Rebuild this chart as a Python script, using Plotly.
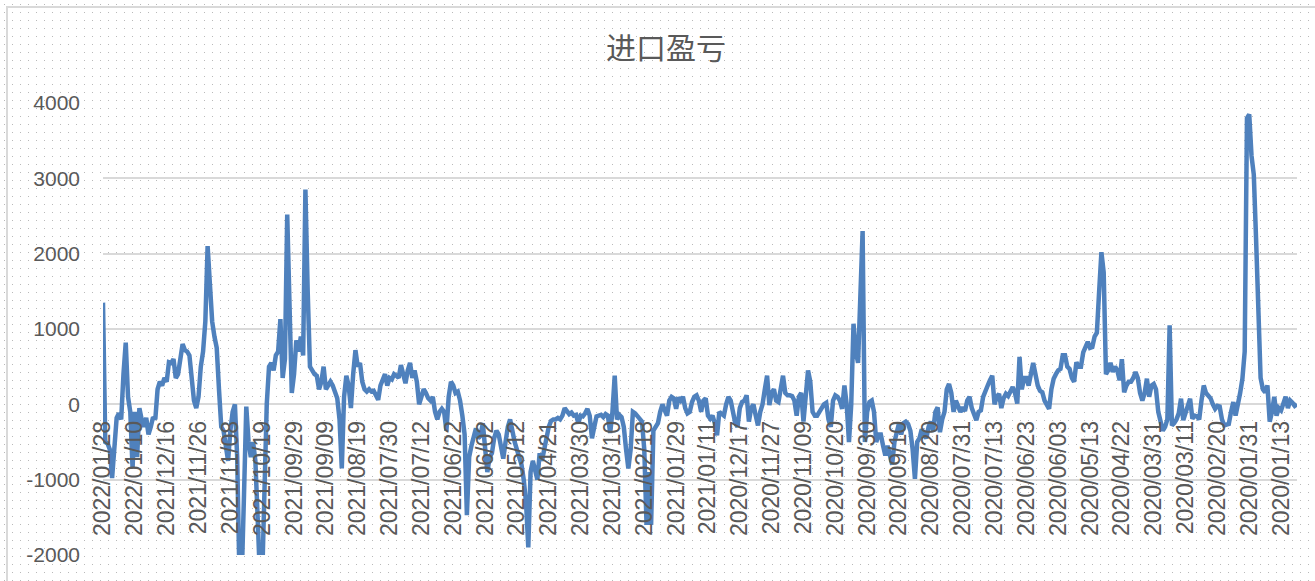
import base64
import struct
import zlib

import plotly.graph_objects as go

# ---------------- data ----------------
title_text = "进口盈亏"

tick_labels = [
    "2022/01/28", "2022/01/10", "2021/12/16", "2021/11/26", "2021/11/08",
    "2021/10/19", "2021/09/29", "2021/09/09", "2021/08/19", "2021/07/30",
    "2021/07/12", "2021/06/22", "2021/06/02", "2021/05/12", "2021/04/21",
    "2021/03/30", "2021/03/10", "2021/02/18", "2021/01/29", "2021/01/11",
    "2020/12/17", "2020/11/27", "2020/11/09", "2020/10/20", "2020/09/30",
    "2020/09/10", "2020/08/20", "2020/07/31", "2020/07/13", "2020/06/23",
    "2020/06/03", "2020/05/13", "2020/04/22", "2020/03/31", "2020/03/11",
    "2020/02/20", "2020/01/31", "2020/01/13",
]
label_every = 14  # one category label every 14 trading days

y_tick_values = [-2000, -1000, 0, 1000, 2000, 3000, 4000]
y_tick_text = ["-2000", "-1000", "0", "1000", "2000", "3000", "4000"]

values_2022_2021a = [
    1350, -500, -520, -600, -980, -650, -180, -120, -200, 400,
    820, 100, -100, -850, -100, -700, -50, -200, -300, -180,
    -400, -300, -170, -200, 200, 300, 250, 350, 300, 560,
    550, 600, 350, 400, 600, 800, 720, 700, 650, 300,
    50, -50, 100, 500, 700, 1100, 2100, 1600, 1100, 900,
    750, 200, -300, -350, -600, -750, -350, -100, 0, -700,
    -2300, -2300, -1200, -30, -500, -700, -500, -750, -1500, -2300,
    -2300, -1200, 0, 500, 550, 450, 650, 700, 1130, 350,
    600, 2520, 1000, 150, 400,
]
values_2021b = [
    850, 700, 900, 650, 2850, 1500, 500, 450, 400, 380,
    200, 300, 500, 200, 250, 300, 250, 180, 80, -200,
    -850, 100, 380, 250, -50, 400, 720, 500, 550, 300,
    200, 170, 200, 170, 180, 120, 60, 250, 350, 400,
    250, 350, 330, 400, 380, 350, 520, 420, 280, 450,
    550, 350, 450, 300, 0, 100, 200, 150, 80, 50,
    100, -100, -200, -100, -60, -100, -350, 100, 300, 250,
    150, 170, 50, -150, -400, -1470, -700, -550, -400, -320,
    -450, -420, -250, -600, -900, -700, -650, -450, -350,
]
values_2021c = [
    -400, -600, -720, -500, -300, -200, -380, -500, -600, -700,
    -800, -1000, -1300, -1900, -900, -750, -850, -1000, -650, -750,
    -600, -400, -300, -220, -200, -200, -180, -200, -150, -50,
    -100, -130, -110, -150, -140, -250, -150, -160, -120, -60,
    -150, -450, -300, -160, -150, -140, -170, -130, -150, -380,
    -100, 380, -200, -140, -170, -300, -600, -850, -600, -100,
    -120, -150, -200, -230, -600, -1600, -900, -1600, -350, -300,
    -250, -100, 0, -80, -150, 50, 100, 80, -60, 90,
    50, 100, -50, -120, -100, 30, 100,
]
values_2020a = [
    120, 50, -100, 50, 80, -150, -190, -150, -250, -410,
    -100, -120, -150, 0, 100, 50, -100, -250, -300, -50,
    30, 50, 120, -230, -50, 0, -150, -280, -100, 0,
    200, 380, -10, 150, 200, 50, 30, 250, 380, 150,
    120, 120, 110, 50, -150, 100, 150, -230, 200, 450,
    300, -100, -150, -150, -100, -50, 0, 20, -200, -300,
    50, 120, 100, 50, -60, 250, 0, -500, 0, 1070,
    700, 550, 1500, 2300, -500, -100, 30, 50, -100, -500,
    -400, -400, -550, -680, -550, -700, -800, -500, -350,
]
values_2020b = [
    -250, -400, -250, -230, -260, -350, -600, -990, -500, -450,
    -330, -400, -450, -300, -230, -350, -100, -40, -370, -200,
    -100, 200, 270, 150, -100, 50, -50, -100, -40, -90,
    50, 100, -50, -150, -210, -100, -80, 100, 160, 250,
    320, 380, 0, 100, 140, -50, 80, 140, 110, 180,
    230, 150, 10, 630, 200, 350, 350, 250, 450, 550,
    400, 250, 180, 160, 50, -20, -60, 200, 340, 400,
    450, 470, 650, 650, 500, 470, 350, 300, 560, 500,
    500, 690, 780, 830, 750, 760, 900,
]
values_2020c = [
    950, 1500, 2020, 1750, 400, 450, 550, 430, 500, 450,
    320, 600, 160, 250, 300, 300, 350, 430, 350, 150,
    50, 150, 340, 100, 250, 270, 200, -100, -250, -350,
    -300, -200, 1050, -280, -250, -200, -120, 75, -210, -100,
    0, 75, -190, -150, -160, -200, 50, 250, 150, 120,
    80, 0, -60, -20, -30, -200, -280, -270, -260, -100,
    30, -150, 50, 150, 340, 700, 3800, 3850, 3300, 3050,
    2200, 1400, 350, 200, 160, 250, -230, -100, 100, -150,
    -50, -80, 30, 100, -50, 50, 20, -20, 0,
]

values = (values_2022_2021a + values_2021b + values_2021c
          + values_2020a + values_2020b + values_2020c)
positions = list(range(len(values)))
tick_positions = [i * label_every for i in range(len(tick_labels))]

# ---------------- layout geometry ----------------
W, H = 1315, 581
ML, MR, MT, MB = 103, 18, 103, 26
PW, PH = W - ML - MR, H - MT - MB


# ---------------- dotted sheet background (decoration) ----------------
def make_background_png(w, h):
    rows = []
    dot = (185, 185, 185)
    border = (217, 217, 217)
    for y in range(h):
        row = bytearray(b"\xff" * (w * 3))
        if y % 8 == 4:
            for x in range(4, w, 8):
                row[3 * x:3 * x + 3] = bytes(dot)
        if y >= 6:
            for x in (6, 7):
                row[3 * x:3 * x + 3] = bytes(border)
        if y in (6, 7):
            for x in range(6, w):
                row[3 * x:3 * x + 3] = bytes(border)
        rows.append(b"\x00" + bytes(row))
    raw = b"".join(rows)

    def chunk(tag, data):
        return (struct.pack(">I", len(data)) + tag + data
                + struct.pack(">I", zlib.crc32(tag + data) & 0xFFFFFFFF))

    png = (b"\x89PNG\r\n\x1a\n"
           + chunk(b"IHDR", struct.pack(">IIBBBBB", w, h, 8, 2, 0, 0, 0))
           + chunk(b"IDAT", zlib.compress(raw, 9))
           + chunk(b"IEND", b""))
    return "data:image/png;base64," + base64.b64encode(png).decode("ascii")


bg_src = make_background_png(W, H)

fig = go.Figure()
fig.add_trace(go.Scatter(
    x=positions,
    y=values,
    mode="lines",
    line=dict(color="#4F81BD", width=4.5, shape="linear"),
    hoverinfo="x+y",
    showlegend=False,
))

y_font = dict(family="Liberation Sans, Arial, sans-serif", size=21, color="#595959")
x_font = dict(family="Liberation Sans, Arial, sans-serif", size=23, color="#595959")

fig.update_layout(
    width=W,
    height=H,
    margin=dict(l=ML, r=MR, t=MT, b=MB, pad=0),
    paper_bgcolor="white",
    plot_bgcolor="white",
    showlegend=False,
    title=dict(
        text=title_text,
        x=666 / W,
        xanchor="center",
        xref="container",
        y=1 - 48 / H,
        yanchor="middle",
        yref="container",
        font=dict(family="Noto Sans CJK SC", size=30, color="#595959"),
    ),
    xaxis=dict(
        range=[0, len(values) - 1],
        tickmode="array",
        tickvals=tick_positions,
        ticktext=tick_labels,
        tickangle=-90,
        tickfont=x_font,
        showgrid=False,
        zeroline=False,
        showline=False,
        ticks="",
        anchor="free",
        position=(0 - y_tick_values[0]) / (y_tick_values[-1] - y_tick_values[0]),
        ticklabelstandoff=11,
        automargin=False,
        layer="above traces",
    ),
    yaxis=dict(
        range=[y_tick_values[0], y_tick_values[-1]],
        tickmode="array",
        tickvals=y_tick_values,
        ticktext=y_tick_text,
        tickfont=y_font,
        showgrid=True,
        gridcolor="#D9D9D9",
        gridwidth=1.5,
        zeroline=False,
        showline=False,
        ticks="",
        ticklabelstandoff=22,
        automargin=False,
    ),
    images=[dict(
        source=bg_src,
        xref="paper",
        yref="paper",
        x=-ML / PW,
        y=1 + MT / PH,
        sizex=W / PW,
        sizey=H / PH,
        sizing="stretch",
        xanchor="left",
        yanchor="top",
        layer="below",
    )],
)

fig.write_html(
    "out.html",
    config={"displayModeBar": False},
    post_script="document.body.style.margin='0px';document.body.style.overflow='hidden';",
)
